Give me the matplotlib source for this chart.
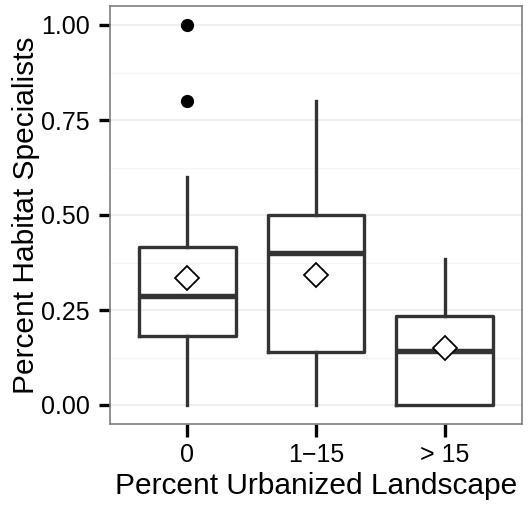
import numpy as np
import matplotlib
matplotlib.use("Agg")
import matplotlib.pyplot as plt
from matplotlib.ticker import MultipleLocator, FormatStrFormatter

plt.rcParams['font.family'] = ['Liberation Sans', 'DejaVu Sans']

#### data ####
groups = ['0', '1\u221215', '> 15']
whislo = [0.00, 0.00, 0.00]
q1 = [0.182, 0.139, 0.00]
med = [0.286, 0.400, 0.143]
q3 = [0.417, 0.500, 0.233]
whishi = [0.600, 0.800, 0.385]
means = [0.335, 0.342, 0.151]
outliers = [[1.00, 0.80], [], []]

#### figure ####
fig = plt.figure(figsize=(5.32, 5.08), dpi=100)
ax = fig.add_axes([110/532, 1-424/508, 412/532, 418/508])

stats = []
for i in range(len(groups)):
    stats.append(dict(label=groups[i], whislo=whislo[i], q1=q1[i], med=med[i],
                      q3=q3[i], whishi=whishi[i], mean=means[i], fliers=outliers[i]))

pos = np.arange(1, len(groups)+1)
lc = '#333333'
ax.bxp(stats, positions=pos, widths=0.75, showmeans=True, showcaps=False,
       boxprops=dict(color=lc, linewidth=2.4),
       whiskerprops=dict(color=lc, linewidth=2.4),
       medianprops=dict(color=lc, linewidth=3.9, solid_capstyle='butt'),
       meanprops=dict(marker='D', markerfacecolor='white', markeredgecolor='black',
                      markersize=12, markeredgewidth=1.3),
       flierprops=dict(marker='o', markerfacecolor='black', markeredgecolor='black',
                       markersize=8.5))

ax.set_xlim(0.4, 3.6)
ax.set_ylim(-0.05, 1.05)
ax.yaxis.set_major_locator(MultipleLocator(0.25))
ax.yaxis.set_minor_locator(MultipleLocator(0.125))
ax.yaxis.set_major_formatter(FormatStrFormatter('%.2f'))

ax.grid(axis='y', which='major', color='#ebebeb', linewidth=1.1)
ax.grid(axis='y', which='minor', color='#f5f5f5', linewidth=0.9)
ax.set_axisbelow(True)
ax.tick_params(axis='y', which='minor', length=0)
ax.tick_params(axis='both', which='major', width=2.4, color='black',
               labelsize=18, labelcolor='black')
ax.tick_params(axis='x', which='major', length=9, pad=5)
ax.tick_params(axis='y', which='major', length=8, pad=6.5)

for s in ax.spines.values():
    s.set_color('#7f7f7f')
    s.set_linewidth(1.2)

ax.set_xlabel('Percent Urbanized Landscape', fontsize=21.5, labelpad=3)
ax.set_ylabel('Percent Habitat Specialists', fontsize=21.5, labelpad=1)

fig.savefig('out.png', dpi=100)
